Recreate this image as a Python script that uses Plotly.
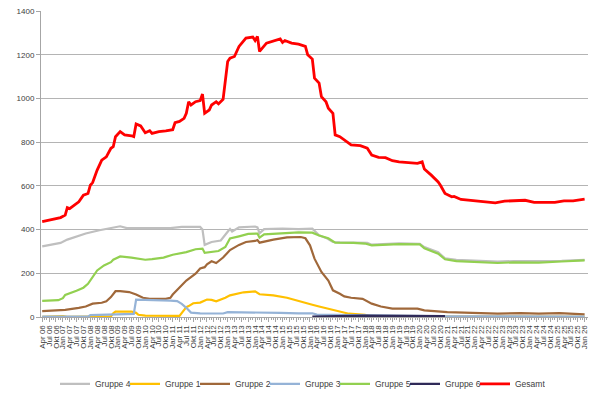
import plotly.graph_objects as go

# ---------------- data ----------------
gesamt_x = ["2006-04","2006-09","2006-12","2007-02","2007-03","2007-04","2007-08","2007-10","2007-12",
            "2008-01","2008-02","2008-04","2008-06","2008-08","2008-10","2008-11","2008-12","2009-02",
            "2009-04","2009-07","2009-08","2009-09","2009-11","2010-01","2010-03","2010-04","2010-07",
            "2010-10","2011-01","2011-02","2011-04","2011-06","2011-07","2011-08","2011-09","2011-11",
            "2012-01","2012-02","2012-03","2012-05","2012-06","2012-08","2012-09","2012-11","2012-12",
            "2013-01","2013-02","2013-04","2013-06","2013-09","2013-12","2014-01","2014-02","2014-03",
            "2014-06","2014-09","2014-12","2015-01","2015-02","2015-05","2015-08","2015-11","2015-12",
            "2016-02","2016-03","2016-05","2016-06","2016-08","2016-09","2016-11","2016-12","2017-02",
            "2017-04","2017-07","2017-11","2018-02","2018-04","2018-07","2018-10","2019-01","2019-04",
            "2019-09","2019-12","2020-02","2020-03","2020-06","2020-09","2020-10","2020-12","2021-03",
            "2021-04","2021-07","2022-02","2022-10","2023-02","2023-11","2024-03","2024-12","2025-04",
            "2025-08","2026-01"]
gesamt_y = [436,447,455,466,500,496,527,557,565,
            603,615,672,718,733,772,779,825,848,
            833,829,825,883,874,843,852,840,848,
            852,857,889,895,909,932,985,970,985,
            990,1020,932,947,970,985,975,996,1070,
            1169,1184,1192,1238,1276,1281,1265,1284,1215,
            1253,1261,1272,1256,1265,1253,1248,1238,1200,
            1180,1093,1070,1008,985,955,932,833,825,
            810,787,784,772,741,730,729,715,710,
            707,703,710,677,649,618,603,565,550,
            552,538,531,522,530,534,524,524,531,
            531,539]

g4_x = ["2006-04","2006-12","2007-03","2007-11","2008-05","2008-11","2009-02","2009-05","2010-12",
        "2011-05","2012-01","2012-02","2012-03","2012-06","2012-10","2013-01","2013-02","2013-03",
        "2013-06","2014-01","2014-02","2014-03","2014-05","2015-01","2015-08","2016-02","2016-05",
        "2016-08","2016-11","2017-02","2018-02","2018-04","2018-10","2019-04","2020-01","2020-03",
        "2020-09","2020-12","2021-05","2022-04","2022-11","2023-06","2024-05","2025-03","2026-01"]
g4_y = [323,339,354,382,397,409,415,407,407,
        412,412,400,330,343,350,390,403,391,
        410,414,410,383,402,405,402,404,374,
        362,343,341,339,331,335,337,335,320,
        296,268,261,256,253,256,255,257,261]

g1_x = ["2006-04","2007-01","2007-03","2008-10","2008-11","2008-12","2009-07","2009-09","2009-10",
        "2010-01","2011-04","2011-05","2011-07","2011-08","2011-10","2012-01","2012-04","2012-06",
        "2012-08","2012-12","2013-02","2013-08","2014-01","2014-03","2014-09","2015-03","2015-08",
        "2015-12","2016-02","2016-05","2016-11","2017-03","2017-06","2018-01","2018-04","2026-01"]
g1_y = [1,4,1,3,17,25,25,19,10,
        6,5,20,45,50,63,66,80,78,
        72,88,99,113,117,104,99,88,72,
        61,56,48,33,22,15,10,2,1]

g2_x = ["2006-04","2007-02","2007-08","2007-11","2008-02","2008-06","2008-08","2008-10","2008-12",
        "2009-02","2009-06","2009-09","2009-12","2010-03","2010-10","2010-12","2011-01","2011-04",
        "2011-07","2011-11","2012-01","2012-03","2012-04","2012-06","2012-08","2012-11","2013-02",
        "2013-06","2013-09","2014-01","2014-02","2014-03","2014-09","2015-03","2015-09","2015-11",
        "2016-01","2016-03","2016-06","2016-09","2016-11","2017-02","2017-04","2017-07","2017-12",
        "2018-04","2018-08","2019-01","2019-12","2020-03","2021-01","2021-12","2022-11","2023-09",
        "2024-05","2025-02","2025-11","2026-01"]
g2_y = [27,33,42,48,61,65,72,91,118,
        118,114,103,88,83,83,88,103,137,
        167,198,222,228,241,255,247,272,306,
        330,343,348,352,340,354,364,366,360,
        328,267,206,167,122,106,94,88,83,
        61,48,38,38,30,22,19,15,18,
        15,18,15,12]

g3_x = ["2006-04","2007-12","2008-01","2009-08","2009-09","2010-06","2010-12","2011-03","2011-05",
        "2011-07","2011-09","2012-01","2012-11","2013-01","2014-08","2014-12","2015-08","2016-02",
        "2016-04","2016-12","2017-12","2019-08","2020-12","2026-01"]
g3_y = [2,2,9,14,79,78,75,73,60,
        42,20,17,16,22,22,19,17,17,
        11,10,8,6,3,2]

g5_x = ["2006-04","2006-11","2007-01","2007-02","2007-07","2007-10","2007-12","2008-01","2008-02",
        "2008-04","2008-07","2008-10","2008-11","2009-02","2009-07","2010-01","2010-04","2010-09",
        "2011-01","2011-07","2011-11","2012-02","2012-03","2012-09","2012-12","2013-02","2013-06",
        "2013-10","2014-02","2014-03","2014-05","2015-01","2015-08","2016-02","2016-05","2016-09",
        "2016-12","2017-08","2018-01","2018-04","2018-10","2019-04","2020-01","2020-03","2020-09",
        "2020-12","2021-05","2022-04","2022-11","2023-06","2024-05","2025-03","2026-01"]
g5_y = [74,77,86,101,120,134,152,167,183,
        213,236,251,262,277,272,262,265,272,
        285,297,310,313,294,302,320,359,369,
        380,382,363,378,382,387,386,373,360,
        340,339,336,328,332,333,332,314,290,
        264,256,251,247,250,249,254,259]

g6_x = ["2016-02","2016-12","2017-12","2019-08","2020-12"]
g6_y = [2,5,6,5,4]

series_names = ["Gruppe 4","Gruppe 1","Gruppe 2","Gruppe 3","Gruppe 5","Gruppe 6","Gesamt"]
series_x = [g4_x, g1_x, g2_x, g3_x, g5_x, g6_x, gesamt_x]
series_y = [g4_y, g1_y, g2_y, g3_y, g5_y, g6_y, gesamt_y]
series_colors = ["#BFBFBF","#FFC000","#A0683A","#95B3D7","#92D050","#2F2A58","#FF0000"]
series_widths = [2.2,2.2,2.2,2.2,2.2,2.2,2.8]

month_names = {1:"Jan",4:"Apr",7:"Jul",10:"Okt"}
tick_dates = [f"{y}-{m:02d}-01" for y in range(2006,2027) for m in (1,4,7,10)
              if (y, m) >= (2006, 4) and (y, m) <= (2026, 1)]
tick_labels = [f"{month_names[int(d[5:7])]} {d[2:4]}" for d in tick_dates]

y_ticks = [0,200,400,600,800,1000,1200,1400]

# ---------------- figure ----------------
fig = go.Figure()
for name, xs, ys, col, w in zip(series_names, series_x, series_y, series_colors, series_widths):
    fig.add_trace(go.Scatter(x=xs, y=ys, name=name, mode="lines",
                             line=dict(color=col, width=w)))

font_family = "Liberation Sans, Arial, sans-serif"
fig.update_layout(
    width=600, height=397,
    margin=dict(l=41, r=12, t=11, b=80, autoexpand=False),
    paper_bgcolor="white", plot_bgcolor="white",
    font=dict(family=font_family, size=8, color="#404040"),
    showlegend=True,
    legend=dict(orientation="h", xref="container", yref="container",
                x=0.5, xanchor="center", y=0.033, yanchor="middle",
                font=dict(size=8.5, color="#404040"),
                itemwidth=30, entrywidth=25, entrywidthmode="pixels",
                tracegroupgap=0,
                bgcolor="rgba(0,0,0,0)"),
    xaxis=dict(type="date", range=["2006-03-16","2026-02-15"], automargin=False,
               tickmode="array", tickvals=tick_dates, ticktext=tick_labels,
               tickangle=-90, tickfont=dict(size=8),
               showgrid=False, showline=True, linecolor="#A6A6A6", linewidth=1,
               ticks="outside", ticklen=4, tickcolor="#A6A6A6",
               minor=dict(dtick="M1", ticks="outside", ticklen=2, tickcolor="#A6A6A6", showgrid=False),
               zeroline=False),
    yaxis=dict(range=[0,1400], tickmode="array", tickvals=y_ticks, automargin=False,
               showgrid=True, gridcolor="#B4B4B4", gridwidth=1,
               showline=True, linecolor="#A6A6A6", linewidth=1,
               ticks="outside", ticklen=4, tickcolor="#A6A6A6",
               tickfont=dict(size=8), zeroline=False),
)

# remove the browser's default 8px page margin so the 600x397 figure fills the window
fig.write_html("out.html",
               config={"displayModeBar": False},
               post_script="document.body.style.margin='0';document.body.style.overflow='hidden';")
